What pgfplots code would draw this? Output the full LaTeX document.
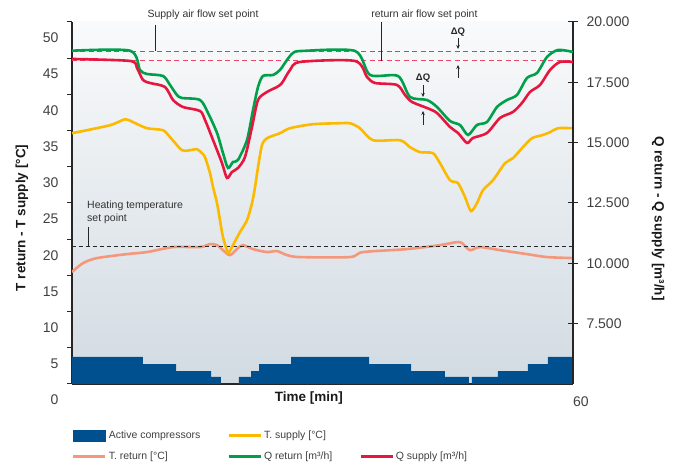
\documentclass[border=0pt]{standalone}
\usepackage{fontspec}
\setmainfont{Liberation Sans}
\usepackage{pgfplots}
\pgfplotsset{compat=1.18}
\usetikzlibrary{arrows.meta}

\definecolor{cblue}{HTML}{00508F}
\definecolor{corange}{HTML}{FBB900}
\definecolor{csalmon}{HTML}{F4977A}
\definecolor{cgreen}{HTML}{00A04B}
\definecolor{cred}{HTML}{E5173F}
\definecolor{cgreend}{HTML}{1F9F55}
\definecolor{credd}{HTML}{EE4466}
\definecolor{bgtop}{HTML}{F9FAFB}
\definecolor{bgmid}{HTML}{DCE3E8}
\definecolor{bgbot}{HTML}{D2DBE2}
\definecolor{txt}{HTML}{404040}

\pgfplotsset{
  base/.style={
    scale only axis, width=501pt, height=362pt,
    xmin=0, xmax=60,
    clip mode=individual,
    scaled ticks=false,
    axis line style={line width=1.3pt, black!85},
    tick style={line width=1pt, black!85},
    tick label style={font=\fontsize{14}{16}\selectfont, text=txt},
    label style={font=\bfseries\fontsize{13.5}{16}\selectfont, text=black!90},
  },
  curve/.style={smooth, tension=0.45, line width=2.6pt, no markers},
}

\begin{document}
\begin{tikzpicture}
\path[use as bounding box] (-72pt,-84pt) rectangle (609pt,384pt);

% left axis: temperatures and compressors
\begin{axis}[base,
  ymin=0, ymax=50,
  axis x line*=bottom, axis y line*=left,
  axis background/.style={top color=bgtop, middle color=bgmid, bottom color=bgbot},
  xtick={60}, xticklabels={60},
  x tick style={draw=none},
  xticklabel style={anchor=west, inner sep=0pt, yshift=-13pt},
  ytick={0,5,...,50},
  yticklabels={0,5,10,15,20,25,30,35,40,45,50},
  yticklabel style={yshift=-16pt, xshift=-5pt},
  tick align=outside, major tick length=5pt,
  xlabel={Time [min]},
  xlabel style={at={(axis description cs:0.473,-0.039)}, anchor=center},
  ylabel={T return - T supply [°C]},
  ylabel style={at={(axis description cs:-0.1,0.459)}, anchor=center},
]
% active compressors
\addplot[const plot, fill=cblue, draw=none] coordinates {
  (0,3.73) (8.5,2.76) (12.46,1.79) (16.65,0.97) (17.84,0) (20.0,0.97)
  (21.44,1.79) (22.4,2.76) (26.23,3.73) (35.57,2.76) (40.6,1.79) (44.67,0.97)
  (47.54,0) (47.9,0.97) (51.0,1.79) (54.6,2.76) (57.0,3.73) (60,3.73)
} \closedcycle;
% T return
\addplot[curve, csalmon] coordinates {
  (0,15.46) (1.32,16.7) (2.99,17.39) (6.59,17.94) (8.98,18.22) (12.1,18.91)
  (15.33,18.91) (16.53,19.32) (17.37,19.18) (18.08,18.49) (18.92,17.8)
  (19.88,18.77) (20.48,19.18) (21.68,18.63) (23.35,18.22) (24.55,18.36)
  (25.75,17.8) (27.3,17.53) (33.29,17.53) (34.85,18.22) (40.12,18.63)
  (44.07,19.18) (46.11,19.6) (46.71,19.46) (47.66,18.49) (48.86,18.91)
  (51.26,18.49) (54.49,17.94) (56.89,17.53) (60,17.39)
};
% heating temperature set point
\addplot[black!85, line width=0.9pt, dash pattern=on 4pt off 3pt] coordinates {(0,19.04) (60,19.04)};
% T supply
\addplot[curve, corange] coordinates {
  (0,34.64) (4.55,35.74) (6.35,36.57) (7.31,36.16) (8.98,35.33) (10.9,35.05)
  (11.74,34.09) (13.17,32.29) (14.1,32.29) (14.97,32.43) (15.57,31.88)
  (15.93,31.33) (16.53,29.12) (16.89,27.19) (17.37,24.98) (17.72,22.63)
  (18.08,20.29) (18.56,18.49) (18.74,18.08) (19.28,19.18) (20.12,20.98)
  (20.96,22.63) (21.56,24.98) (21.92,27.19) (22.28,29.95) (22.75,32.98)
  (23.35,33.95) (24.91,34.64) (26.11,35.33) (28.86,35.88) (32.1,36.02)
  (33.29,36.02) (34.49,35.33) (36.05,33.67) (39.28,33.67) (40.48,32.71)
  (41.68,32.02) (43.23,31.88) (44.07,30.5) (45.27,28.15) (46.23,27.74)
  (47.07,25.81) (47.78,23.88) (48.5,24.98) (49.22,26.77) (50.42,28.15)
  (51.86,30.5) (52.81,31.19) (54.0,32.71) (55.09,33.95) (56.29,34.36)
  (57.25,34.78) (58.2,35.33) (60,35.33)
};
\node[anchor=north west, align=left, inner sep=0pt, font=\fontsize{10.5}{12.5}\selectfont, text=black!80]
  at (axis cs:1.8,25.3) {Heating temperature\\set point};
\draw[line width=0.8pt, black!85] (axis cs:1.92,21.67) -- (axis cs:1.92,19.04);
\end{axis}

% right axis: air flows
\begin{axis}[base,
  ymin=5000, ymax=20000,
  axis x line=none, axis y line*=right,
  ytick={7500,10000,12500,15000,17500,20000},
  yticklabels={7.500,10.000,12.500,15.000,17.500,20.000},
  yticklabel style={xshift=5pt},
  tick align=center, major tick length=10pt,
  ylabel={Q return - Q supply [m³/h]},
  ylabel style={at={(axis description cs:1.17,0.457)}, anchor=center, rotate=180},
  legend columns=3,
  legend cell align=left,
  legend style={at={(axis description cs:0,-0.124)}, anchor=north west,
    draw=none, fill=none, inner sep=0pt, row sep=8pt,
    font=\fontsize{10.5}{12.5}\selectfont, text=txt,
    /tikz/every even column/.append style={column sep=25pt}},
]
\addlegendimage{legend image code/.code={\fill[cblue] (0pt,-5.5pt) rectangle (32pt,5.5pt);}}
\addlegendentry{Active compressors}
\addlegendimage{legend image code/.code={\draw[corange, line width=2.6pt] (0pt,0pt) -- (32pt,0pt);}}
\addlegendentry{T. supply [°C]}
\addlegendimage{empty legend}
\addlegendentry{}
\addlegendimage{legend image code/.code={\draw[csalmon, line width=2.6pt] (0pt,0pt) -- (32pt,0pt);}}
\addlegendentry{T. return [°C]}
\addlegendimage{legend image code/.code={\draw[cgreen, line width=2.6pt] (0pt,0pt) -- (32pt,0pt);}}
\addlegendentry{Q return [m³/h]}
\addlegendimage{legend image code/.code={\draw[cred, line width=2.6pt] (0pt,0pt) -- (32pt,0pt);}}
\addlegendentry{Q supply [m³/h]}

% set points
\addplot[forget plot, cgreend, line width=1pt, dash pattern=on 5pt off 3.5pt] coordinates {(0,18770) (60,18770)};
\addplot[forget plot, credd, line width=1pt, dash pattern=on 5pt off 3.5pt] coordinates {(0,18385) (60,18385)};
% Q return
\addplot[forget plot, curve, cgreen] coordinates {
  (0,18810) (6.95,18810) (8.14,18012) (8.98,17846) (10.9,17764) (11.74,17391)
  (12.57,16976) (13.17,16852) (15.33,16769) (16.29,16231) (17.37,15401)
  (18.08,14573) (18.68,13951) (19.28,14200) (19.88,14283) (20.96,15111)
  (21.68,16355) (22.28,17308) (22.87,17764) (24.07,17805) (24.91,18012)
  (25.75,18427) (26.47,18717) (27.54,18800) (33.89,18800) (35.69,17805)
  (39.04,17764) (40.48,16893) (42.51,16769) (43.71,16479) (45.27,15899)
  (46.47,15733) (47.43,15319) (48.5,15733) (49.7,15857) (50.9,16479)
  (52.1,16769) (53.29,16976) (54.49,17681) (55.69,17888) (56.89,18551)
  (58.2,18841) (60,18758)
};
% Q supply
\addplot[forget plot, curve, cred] coordinates {
  (0,18468) (6.95,18385) (7.78,18095) (8.5,17598) (9.34,17473) (11.14,17308)
  (12.1,16769) (13.29,16479) (15.33,16313) (15.93,15940) (16.89,15111)
  (17.96,14158) (18.56,13537) (19.16,13785) (19.88,13951) (20.72,14407)
  (21.56,15650) (22.28,16769) (23.35,17100) (24.55,17308) (25.15,17473)
  (26.11,18012) (27.3,18344) (33.89,18385) (35.33,17722) (36.29,17473)
  (38.92,17391) (39.88,16976) (40.72,16686) (42.51,16437) (43.71,16230)
  (45.27,15650) (46.23,15401) (47.31,14987) (48.02,15194) (49.7,15401)
  (51.26,16023) (52.81,16272) (53.89,16645) (54.85,17100) (56.05,17391)
  (57.25,18012) (58.44,18344) (60,18344)
};

% annotations
\node[font=\fontsize{10.5}{12.5}\selectfont, text=black!80] at (axis cs:15.69,20291) {Supply air flow set point};
\draw[line width=0.8pt, black!85] (axis cs:9.94,19880) -- (axis cs:9.94,18800);
\node[font=\fontsize{10.5}{12.5}\selectfont, text=black!80] at (axis cs:42.2,20291) {return air flow set point};
\draw[line width=0.8pt, black!85] (axis cs:37.0,20000) -- (axis cs:37.0,18385);

\node[font=\bfseries\fontsize{9.5}{11}\selectfont, text=black!85] at (axis cs:46.23,19587) {ΔQ};
\draw[line width=0.9pt, black!85, -{Stealth[length=4pt,width=3.5pt]}] (axis cs:46.23,19338) -- (axis cs:46.23,18882);
\draw[line width=0.9pt, black!85, -{Stealth[length=4pt,width=3.5pt]}] (axis cs:46.23,17681) -- (axis cs:46.23,18220);
\node[font=\bfseries\fontsize{9.5}{11}\selectfont, text=black!85] at (axis cs:42.04,17681) {ΔQ};
\draw[line width=0.9pt, black!85, -{Stealth[length=4pt,width=3.5pt]}] (axis cs:42.04,17391) -- (axis cs:42.04,16893);
\draw[line width=0.9pt, black!85, -{Stealth[length=4pt,width=3.5pt]}] (axis cs:42.04,15733) -- (axis cs:42.04,16313);
\end{axis}
\end{tikzpicture}
\end{document}
